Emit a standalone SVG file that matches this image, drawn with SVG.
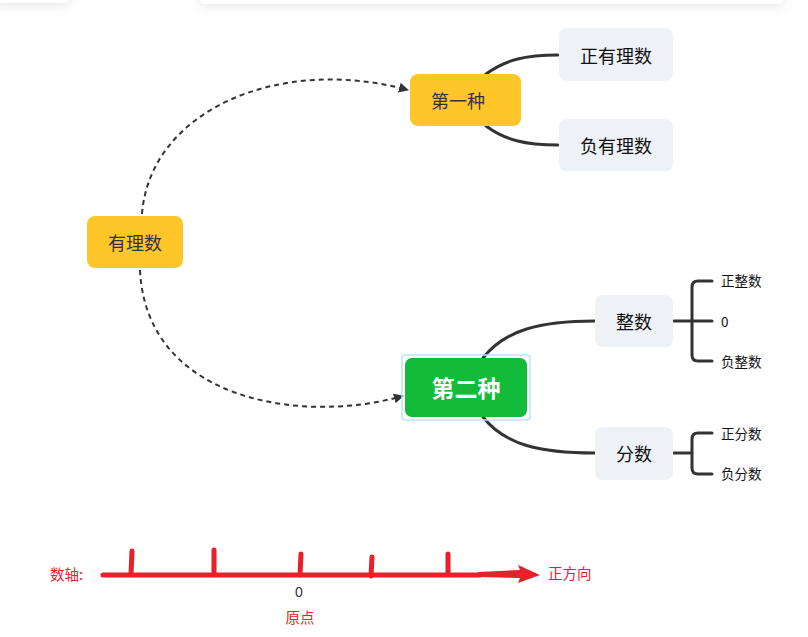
<svg xmlns="http://www.w3.org/2000/svg" width="808" height="637" viewBox="0 0 808 637">
<style>
.t{font-family:"Noto Sans CJK SC","Noto Sans",sans-serif;text-anchor:middle;dominant-baseline:central}
.main{fill:#FFC629}
.sub{fill:#EEF1F5}
.nt{font-size:18px;fill:#333}
.st{font-size:18px;fill:#111}
.leaf{font-size:13.5px;fill:#111;text-anchor:start}
.solid{fill:none;stroke:#333;stroke-width:3;stroke-linecap:round}
.dash{fill:none;stroke:#333;stroke-width:2;stroke-dasharray:5 4}
.red{fill:#E8202A}
.redl{fill:none;stroke:#E8202A;stroke-width:5;stroke-linecap:round}
.rt{font-family:"Noto Sans CJK SC","Noto Sans",sans-serif;font-size:14.5px;fill:#E8202A}
</style>
<defs>
<filter id="sh" x="-20%" y="-200%" width="140%" height="500%">
<feDropShadow dx="0" dy="2" stdDeviation="6" flood-color="#000" flood-opacity="0.1"/>
</filter>
<marker id="ah" viewBox="0 0 10 10" refX="9" refY="5" markerWidth="5" markerHeight="5" orient="auto">
<path d="M0,0 L10,5 L0,10 z" fill="#333"/>
</marker>
</defs>
<rect width="808" height="637" fill="#fff"/>
<g id="toolbar">
<rect x="-10" y="-20" width="80" height="23" rx="5" fill="#fff" filter="url(#sh)"/>
<rect x="200" y="-20" width="583" height="24" rx="5" fill="#fff" filter="url(#sh)"/>
</g>
<g id="connectors">
<path class="dash" d="M142,214 C150,110 280,55 408,90" marker-end="url(#ah)"/>
<path class="dash" d="M140,270 C146,400 300,425 403,396" marker-end="url(#ah)"/>
<path class="solid" d="M486,74 C505,60 525,55 558,55"/>
<path class="solid" d="M486,126 C505,140 525,145 558,145"/>
<path class="solid" d="M483,358 C505,330 540,321 595,321"/>
<path class="solid" d="M483,417 C505,445 540,453 595,453"/>
<path class="solid" d="M674,321 H712 M712,281 H698 Q692,281 692,287 V355 Q692,361 698,361 H712"/>
<path class="solid" d="M674,453 H692 M712,433 H698 Q692,433 692,439 V468 Q692,474 698,474 H712"/>
</g>
<g id="n-root">
<rect class="main" x="87" y="216" width="96" height="52" rx="8"/>
<text class="t nt" x="135" y="242">有理数</text>
</g>
<g id="n-first">
<rect class="main" x="410" y="74" width="111" height="52" rx="8"/>
<text class="t nt" x="458" y="100">第一种</text>
</g>
<g id="n-pos">
<rect class="sub" x="559" y="28" width="114" height="53" rx="8"/>
<text class="t st" x="616" y="55">正有理数</text>
</g>
<g id="n-neg">
<rect class="sub" x="559" y="119" width="114" height="52" rx="8"/>
<text class="t st" x="616" y="145">负有理数</text>
</g>
<g id="n-second">
<rect x="402" y="355" width="128" height="65" rx="3" fill="none" stroke="#BFE3F7" stroke-width="1.5"/>
<rect x="405" y="358" width="122" height="59" rx="7" fill="#13BB3A"/>
<text class="t" x="466" y="387" font-size="23" font-weight="bold" fill="#fff">第二种</text>
</g>
<g id="n-int">
<rect class="sub" x="595" y="295" width="78" height="52" rx="8"/>
<text class="t st" x="634" y="321">整数</text>
</g>
<g id="n-frac">
<rect class="sub" x="595" y="427" width="78" height="53" rx="8"/>
<text class="t st" x="634" y="453">分数</text>
</g>
<g id="n-leaves">
<text class="t leaf" x="721" y="280">正整数</text>
<text class="t leaf" x="721" y="321">0</text>
<text class="t leaf" x="721" y="361">负整数</text>
<text class="t leaf" x="721" y="433">正分数</text>
<text class="t leaf" x="721" y="473">负分数</text>
</g>
<g id="numberline">
<path class="redl" d="M103,575 H480"/>
<path class="red" d="M478,572 L520,570 L518,565 L540,575 L518,583 L520,578 L478,577 z"/>
<path class="redl" d="M132,551 L131,574 M214,550 L214,574 M301,554 L300,575 M372,557 L371,576 M448,554 L448,574"/>
<text class="rt" x="50" y="580">数轴:</text>
<text x="299" y="597" font-family="Liberation Sans,sans-serif" font-size="14" fill="#333" text-anchor="middle">0</text>
<text class="rt" x="300" y="623" text-anchor="middle">原点</text>
<text class="rt" x="548" y="579">正方向</text>
</g>
</svg>
